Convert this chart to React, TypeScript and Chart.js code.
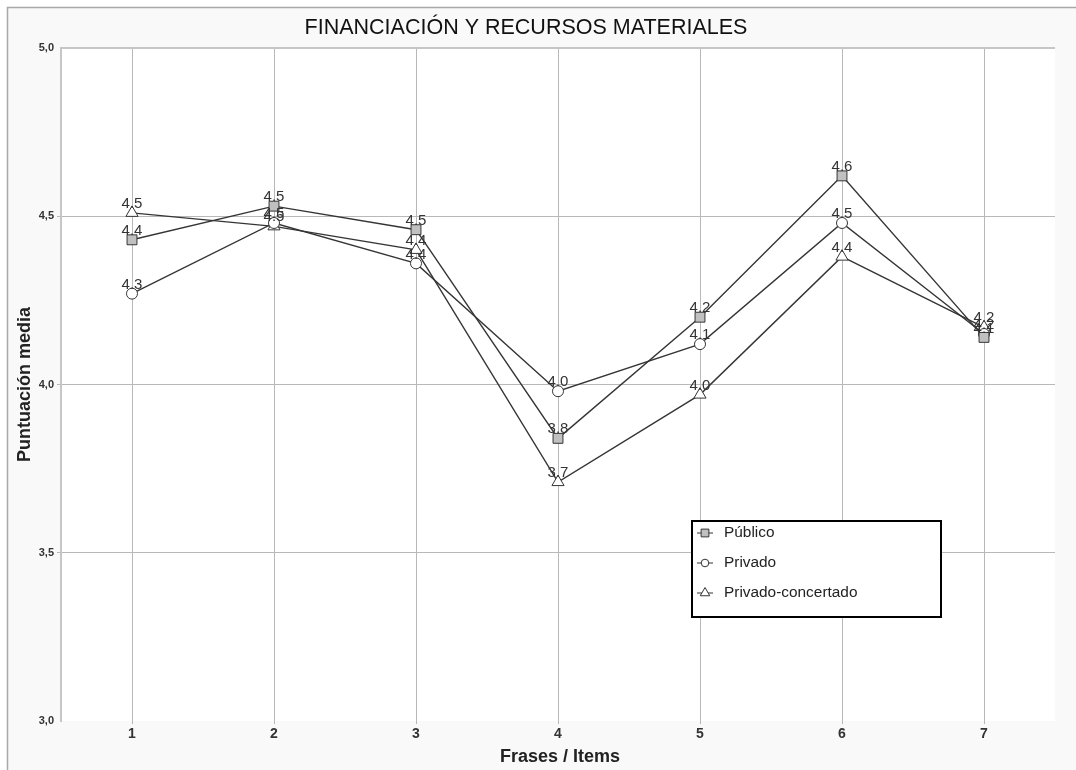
import React, { useEffect, useRef } from 'react';
import { Chart, registerables } from 'chart.js';

Chart.register(...registerables);

const categories = ['1', '2', '3', '4', '5', '6', '7'];
const publico = [4.43, 4.53, 4.46, 3.84, 4.2, 4.62, 4.14];
const privado = [4.27, 4.48, 4.36, 3.98, 4.12, 4.48, 4.15];
const concertado = [4.51, 4.47, 4.4, 3.71, 3.97, 4.38, 4.17];
const seriesNames = ['Público', 'Privado', 'Privado-concertado'];
const yMin = 3.0;
const yMax = 5.0;
const yStep = 0.5;
const titleText = 'FINANCIACIÓN Y RECURSOS MATERIALES';
const xTitle = 'Frases / Items';
const yTitle = 'Puntuación media';

const FONT = '"Liberation Sans", Arial, sans-serif';
const LINE = '#353535';

function drawMarker(ctx: CanvasRenderingContext2D, style: string, x: number, y: number, r: number, fill: string) {
  ctx.save();
  ctx.beginPath();
  if (style === 'rect') {
    const s = r * Math.SQRT1_2;
    ctx.rect(x - s, y - s, 2 * s, 2 * s);
  } else if (style === 'circle') {
    ctx.arc(x, y, r, 0, Math.PI * 2);
  } else {
    const w = (r * Math.sqrt(3)) / 2;
    ctx.moveTo(x, y - r);
    ctx.lineTo(x + w, y + r / 2);
    ctx.lineTo(x - w, y + r / 2);
    ctx.closePath();
  }
  ctx.fillStyle = fill;
  ctx.fill();
  ctx.lineWidth = 1;
  ctx.strokeStyle = LINE;
  ctx.stroke();
  ctx.restore();
}

const framePlugin = {
  id: 'frame',
  beforeDraw(chart: any) {
    const { ctx, width, height, chartArea } = chart;
    ctx.save();
    ctx.fillStyle = '#ffffff';
    ctx.fillRect(0, 0, width, height);
    ctx.fillStyle = '#f9f9f9';
    ctx.fillRect(7, 7, width - 7, height - 7);
    ctx.strokeStyle = '#a8a8a8';
    ctx.lineWidth = 1.5;
    ctx.beginPath();
    ctx.moveTo(7.5, height);
    ctx.lineTo(7.5, 7.5);
    ctx.lineTo(width, 7.5);
    ctx.stroke();
    ctx.fillStyle = '#ffffff';
    ctx.fillRect(chartArea.left, chartArea.top, chartArea.right - chartArea.left, chartArea.bottom - chartArea.top);
    ctx.restore();
  },
  beforeDatasetsDraw(chart: any) {
    const { ctx, chartArea } = chart;
    ctx.save();
    ctx.strokeStyle = '#c6c6c6';
    ctx.lineWidth = 2;
    ctx.beginPath();
    ctx.moveTo(chartArea.left - 1, chartArea.top);
    ctx.lineTo(chartArea.right, chartArea.top);
    ctx.stroke();
    ctx.restore();
  },
  afterDraw(chart: any) {
    const { ctx, chartArea } = chart;
    ctx.save();
    ctx.fillStyle = '#111111';
    ctx.textAlign = 'center';
    ctx.textBaseline = 'middle';
    ctx.font = `21.5px ${FONT}`;
    ctx.fillText(titleText, 526, 28);
    ctx.font = `bold 18px ${FONT}`;
    ctx.fillStyle = '#222222';
    ctx.fillText(xTitle, (chartArea.left + chartArea.right) / 2 + 2, 757);
    ctx.translate(25, (chartArea.top + chartArea.bottom) / 2);
    ctx.rotate(-Math.PI / 2);
    ctx.fillText(yTitle, 0, 0);
    ctx.restore();
  },
};

const labelPlugin = {
  id: 'pointLabels',
  afterDatasetsDraw(chart: any) {
    const { ctx } = chart;
    ctx.save();
    ctx.font = `15px ${FONT}`;
    ctx.fillStyle = '#333333';
    ctx.textAlign = 'center';
    ctx.textBaseline = 'middle';
    chart.data.datasets.forEach((ds: any, i: number) => {
      const meta = chart.getDatasetMeta(i);
      meta.data.forEach((pt: any, j: number) => {
        ctx.fillText(Number(ds.data[j]).toFixed(1), pt.x, pt.y - 9);
      });
    });
    ctx.restore();
  },
};

const legendPlugin = {
  id: 'boxLegend',
  afterDraw(chart: any) {
    const { ctx } = chart;
    const left = 692;
    const top = 521;
    const w = 249;
    const h = 96;
    ctx.save();
    ctx.fillStyle = '#ffffff';
    ctx.fillRect(left, top, w, h);
    ctx.strokeStyle = '#000000';
    ctx.lineWidth = 2;
    ctx.strokeRect(left, top, w, h);
    ctx.font = `15.4px ${FONT}`;
    ctx.textAlign = 'left';
    ctx.textBaseline = 'middle';
    chart.data.datasets.forEach((ds: any, i: number) => {
      const y = top + 12 + i * 30;
      ctx.strokeStyle = LINE;
      ctx.lineWidth = 1;
      ctx.beginPath();
      ctx.moveTo(left + 5, y);
      ctx.lineTo(left + 21, y);
      ctx.stroke();
      const r = ds.pointStyle === 'rect' ? 5.5 : ds.pointStyle === 'circle' ? 3.8 : 5.5;
      drawMarker(ctx, ds.pointStyle, left + 13, y, r, ds.pointBackgroundColor);
      ctx.fillStyle = '#222222';
      ctx.fillText(ds.label, left + 32, y);
    });
    ctx.restore();
  },
};

export default function App() {
  const ref = useRef<HTMLCanvasElement | null>(null);

  useEffect(() => {
    document.body.style.margin = '0';
    if (!ref.current) return;
    const common = {
      borderColor: LINE,
      borderWidth: 1.4,
      pointBorderColor: LINE,
      pointBorderWidth: 1,
      tension: 0,
      fill: false,
    };
    const chart = new Chart(ref.current, {
      type: 'line',
      data: {
        labels: categories,
        datasets: [
          { ...common, label: seriesNames[0], data: publico, pointStyle: 'rect', pointRadius: 7, pointBackgroundColor: '#c0c0c0' },
          { ...common, label: seriesNames[1], data: privado, pointStyle: 'circle', pointRadius: 5.5, pointBackgroundColor: '#ffffff' },
          { ...common, label: seriesNames[2], data: concertado, pointStyle: 'triangle', pointRadius: 7, pointBackgroundColor: '#ffffff' },
        ] as any,
      },
      options: {
        animation: false,
        responsive: false,
        events: [],
        layout: { padding: { left: 0, top: 48, right: 21, bottom: 0 } },
        plugins: {
          legend: { display: false },
          tooltip: { enabled: false },
          title: { display: false },
        },
        scales: {
          x: {
            type: 'category',
            offset: true,
            grid: { offset: false, color: '#b8b8b8', lineWidth: 1, tickLength: 3 },
            border: { display: false },
            ticks: { color: '#333333', font: { family: FONT, size: 14, weight: 'bold' }, padding: 2 },
            afterFit: (s: any) => {
              s.height = 49;
            },
          },
          y: {
            min: yMin,
            max: yMax,
            ticks: {
              stepSize: yStep,
              color: '#333333',
              font: { family: FONT, size: 11, weight: 'bold' },
              padding: 3,
              callback: (v: any) => Number(v).toFixed(1).replace('.', ','),
            },
            grid: {
              color: (c: any) => (c.tick && (c.tick.value === yMin || c.tick.value === yMax) ? 'rgba(0,0,0,0)' : '#b8b8b8'),
              lineWidth: 1,
              tickLength: 4,
            },
            border: { display: true, color: '#c6c6c6', width: 2 },
            afterFit: (s: any) => {
              s.width = 61;
            },
          },
        },
      } as any,
      plugins: [framePlugin, labelPlugin, legendPlugin],
    });
    return () => chart.destroy();
  }, []);

  return (
    <div style={{ position: 'absolute', left: 0, top: 0, width: 1076, height: 770 }}>
      <canvas ref={ref} width={1076} height={770} style={{ width: 1076, height: 770 }} />
    </div>
  );
}
